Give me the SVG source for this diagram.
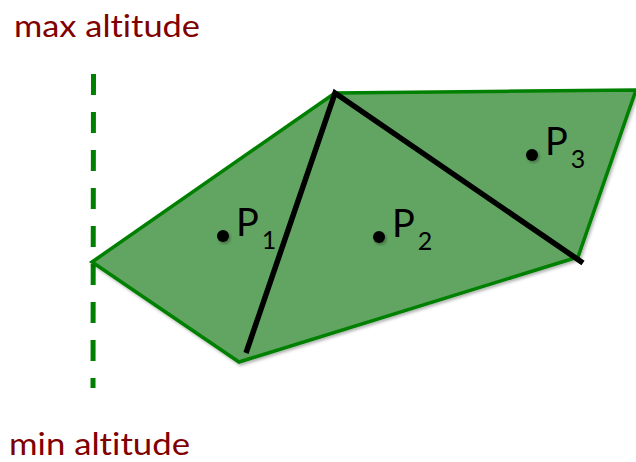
<svg xmlns="http://www.w3.org/2000/svg" width="636" height="462" viewBox="0 0 636 462">
  <defs>
    <filter id="sh" x="-20%" y="-20%" width="140%" height="140%">
      <feDropShadow dx="1.5" dy="2" stdDeviation="1.5" flood-color="#000" flood-opacity="0.3"/>
    </filter>
  </defs>
  <style>
    text { font-variant-ligatures: none; }
    .lbl { font-family: Lato, "Open Sans", sans-serif; font-size: 30px; fill: #800000; }
    .pt { font-family: Lato, "Open Sans", sans-serif; font-size: 38px; fill: #000; }
    .sub { font-size: 25px; }
    .dot { fill: #000; filter: url(#sh); }
  </style>
  <rect width="636" height="462" fill="#fff"/>
  <text class="lbl" x="14" y="37" textLength="186" lengthAdjust="spacingAndGlyphs">max altitude</text>
  <text class="lbl" x="9" y="455" textLength="181" lengthAdjust="spacingAndGlyphs">min altitude</text>
  <g id="altitude-axis">
    <line x1="93.5" y1="74" x2="93" y2="388" stroke="#008000" stroke-width="5" stroke-dasharray="21 17"/>
  </g>
  <g id="region" filter="url(#sh)">
    <polygon points="92,262 335,93 636,90 578,257 239,362" fill="#62A562" stroke="#008000" stroke-width="3.5" stroke-linejoin="miter"/>
  </g>
  <g id="connectors">
    <polyline points="246,353 335,93 583,263" fill="none" stroke="#000" stroke-width="5.5" stroke-linejoin="miter"/>
  </g>
  <g id="P1">
    <circle class="dot" cx="223" cy="236" r="6"/>
    <text class="pt" x="236" y="236">P<tspan class="sub" dx="3" dy="13">1</tspan></text>
  </g>
  <g id="P2">
    <circle class="dot" cx="379" cy="237" r="6"/>
    <text class="pt" x="392" y="237">P<tspan class="sub" dx="3" dy="13">2</tspan></text>
  </g>
  <g id="P3">
    <circle class="dot" cx="532" cy="155" r="6"/>
    <text class="pt" x="545" y="155">P<tspan class="sub" dx="3" dy="13">3</tspan></text>
  </g>
</svg>
